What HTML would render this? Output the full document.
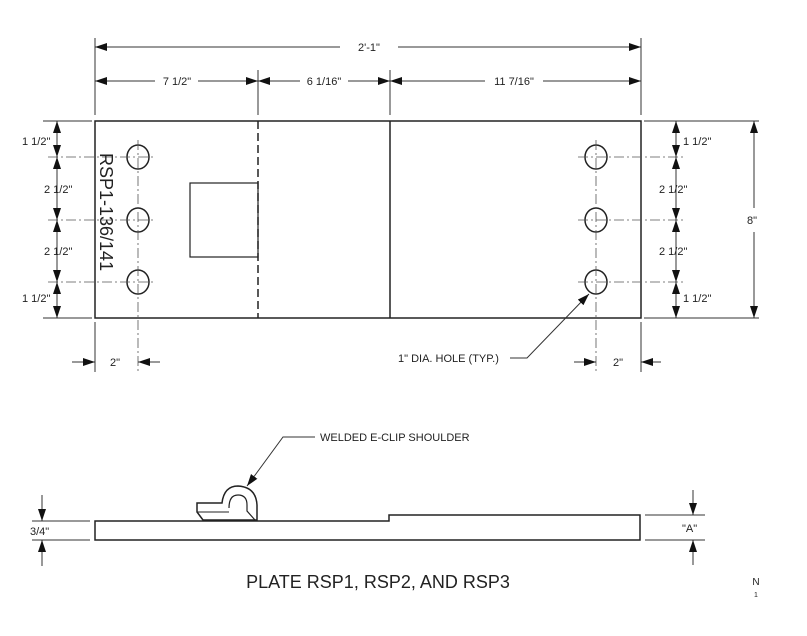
<!DOCTYPE html>
<html><head><meta charset="utf-8"><style>
html,body{margin:0;padding:0;background:#fff;}
svg{display:block;font-family:"Liberation Sans",sans-serif;}
</style></head><body>
<svg width="807" height="636" viewBox="0 0 807 636" xmlns="http://www.w3.org/2000/svg">
<defs>
<marker id="a" markerWidth="12" markerHeight="8" refX="12" refY="4" orient="auto-start-reverse" markerUnits="userSpaceOnUse"><path d="M0,0 L12,4 L0,8 z" fill="#111"/></marker>
</defs>
<g stroke="#333" stroke-width="1" fill="none">
<line x1="95" y1="38" x2="95" y2="115"/>
<line x1="641" y1="38" x2="641" y2="115"/>
<line x1="258" y1="70" x2="258" y2="115"/>
<line x1="390" y1="70" x2="390" y2="115"/>
<line x1="95" y1="47" x2="340" y2="47" marker-start="url(#a)"/>
<line x1="398" y1="47" x2="641" y2="47" marker-end="url(#a)"/>
<line x1="95" y1="81" x2="155" y2="81" marker-start="url(#a)"/>
<line x1="198" y1="81" x2="258" y2="81" marker-end="url(#a)"/>
<line x1="258" y1="81" x2="300" y2="81" marker-start="url(#a)"/>
<line x1="348" y1="81" x2="390" y2="81" marker-end="url(#a)"/>
<line x1="390" y1="81" x2="485" y2="81" marker-start="url(#a)"/>
<line x1="543" y1="81" x2="641" y2="81" marker-end="url(#a)"/>
</g>
<g font-size="11" fill="#222" text-anchor="middle">
<text x="369" y="51">2'-1"</text>
<text x="177" y="85">7 1/2"</text>
<text x="324" y="85">6 1/16"</text>
<text x="514" y="85">11 7/16"</text>
</g>
<g stroke="#222" stroke-width="1.5" fill="none">
<rect x="95" y="121" width="546" height="197"/>
<line x1="390" y1="121" x2="390" y2="318"/>
<line x1="258" y1="121" x2="258" y2="318" stroke-dasharray="8,4"/>
<rect x="190" y="183" width="68" height="74" stroke-width="1.2"/>
<ellipse cx="138" cy="157" rx="11" ry="12"/>
<ellipse cx="138" cy="220" rx="11" ry="12"/>
<ellipse cx="138" cy="282" rx="11" ry="12"/>
<ellipse cx="596" cy="157" rx="11" ry="12"/>
<ellipse cx="596" cy="220" rx="11" ry="12"/>
<ellipse cx="596" cy="282" rx="11" ry="12"/>
</g>
<g stroke="#555" stroke-width="0.8" stroke-dasharray="10,3,2,3" fill="none">
<line x1="48" y1="157" x2="156" y2="157"/>
<line x1="48" y1="220" x2="156" y2="220"/>
<line x1="48" y1="282" x2="156" y2="282"/>
<line x1="138" y1="140" x2="138" y2="372"/>
<line x1="578" y1="157" x2="686" y2="157"/>
<line x1="578" y1="220" x2="686" y2="220"/>
<line x1="578" y1="282" x2="686" y2="282"/>
<line x1="596" y1="140" x2="596" y2="372"/>
</g>
<g stroke="#333" stroke-width="1" fill="none">
<line x1="43" y1="121" x2="92" y2="121"/>
<line x1="43" y1="318" x2="92" y2="318"/>
<line x1="57" y1="121" x2="57" y2="157" marker-start="url(#a)" marker-end="url(#a)"/>
<line x1="57" y1="157" x2="57" y2="220" marker-start="url(#a)" marker-end="url(#a)"/>
<line x1="57" y1="220" x2="57" y2="282" marker-start="url(#a)" marker-end="url(#a)"/>
<line x1="57" y1="282" x2="57" y2="318" marker-start="url(#a)" marker-end="url(#a)"/>
<line x1="644" y1="121" x2="759" y2="121"/>
<line x1="644" y1="318" x2="759" y2="318"/>
<line x1="676" y1="121" x2="676" y2="157" marker-start="url(#a)" marker-end="url(#a)"/>
<line x1="676" y1="157" x2="676" y2="220" marker-start="url(#a)" marker-end="url(#a)"/>
<line x1="676" y1="220" x2="676" y2="282" marker-start="url(#a)" marker-end="url(#a)"/>
<line x1="676" y1="282" x2="676" y2="318" marker-start="url(#a)" marker-end="url(#a)"/>
<line x1="754" y1="121" x2="754" y2="208" marker-start="url(#a)"/>
<line x1="754" y1="232" x2="754" y2="318" marker-end="url(#a)"/>
<line x1="95" y1="322" x2="95" y2="372"/>
<line x1="641" y1="322" x2="641" y2="372"/>
<line x1="72" y1="362" x2="95" y2="362" marker-end="url(#a)"/>
<line x1="160" y1="362" x2="138" y2="362" marker-end="url(#a)"/>
<line x1="574" y1="362" x2="596" y2="362" marker-end="url(#a)"/>
<line x1="661" y1="362" x2="641" y2="362" marker-end="url(#a)"/>
<polyline points="510,358 527,358 585,298" />
<line x1="585" y1="298" x2="589" y2="294" marker-end="url(#a)"/>
</g>
<g font-size="11" fill="#222">
<text x="22" y="145">1 1/2"</text>
<text x="44" y="193">2 1/2"</text>
<text x="44" y="255">2 1/2"</text>
<text x="22" y="302">1 1/2"</text>
<text x="683" y="145">1 1/2"</text>
<text x="659" y="193">2 1/2"</text>
<text x="659" y="255">2 1/2"</text>
<text x="683" y="302">1 1/2"</text>
<text x="747" y="224">8"</text>
<text x="110" y="366">2"</text>
<text x="613" y="366">2"</text>
<text x="398" y="362">1" DIA. HOLE (TYP.)</text>
</g>
<text x="0" y="0" font-size="18" fill="#222" transform="translate(100,153) rotate(90)">RSP1-136/141</text>
<g stroke="#222" stroke-width="1.5" fill="none">
<path d="M95,521 L389,521 L389,515 L640,515 L640,540 L95,540 Z"/>
<path d="M203,520 L197,512 L197,503 L222,503 Q224,486 238,486 Q256,487 257,505 L257,520 Z" fill="#fff"/>
<path d="M229,508 Q229,495 238,495 Q247,495 247,505 L247,511 L255,520" stroke-width="1.2"/>
<line x1="197" y1="512" x2="229" y2="512" stroke-width="1"/>
</g>
<g stroke="#333" stroke-width="1" fill="none">
<polyline points="315,437 283,437 250,482"/>
<line x1="250" y1="482" x2="247" y2="486" marker-end="url(#a)"/>
<line x1="32" y1="521" x2="90" y2="521"/>
<line x1="32" y1="540" x2="90" y2="540"/>
<line x1="42" y1="495" x2="42" y2="521" marker-end="url(#a)"/>
<line x1="42" y1="566" x2="42" y2="540" marker-end="url(#a)"/>
<line x1="645" y1="515" x2="705" y2="515"/>
<line x1="645" y1="540" x2="705" y2="540"/>
<line x1="693" y1="490" x2="693" y2="515" marker-end="url(#a)"/>
<line x1="693" y1="565" x2="693" y2="540" marker-end="url(#a)"/>
</g>
<g fill="#222">
<text x="320" y="441" font-size="11">WELDED E-CLIP SHOULDER</text>
<text x="30" y="535" font-size="11">3/4"</text>
<text x="682" y="532" font-size="11">"A"</text>
<text x="378" y="588" font-size="18" text-anchor="middle">PLATE RSP1, RSP2, AND RSP3</text>
<text x="756" y="585" font-size="10" text-anchor="middle">N</text>
<text x="756" y="597" font-size="7" text-anchor="middle">1</text>
</g>
</svg>
</body></html>
